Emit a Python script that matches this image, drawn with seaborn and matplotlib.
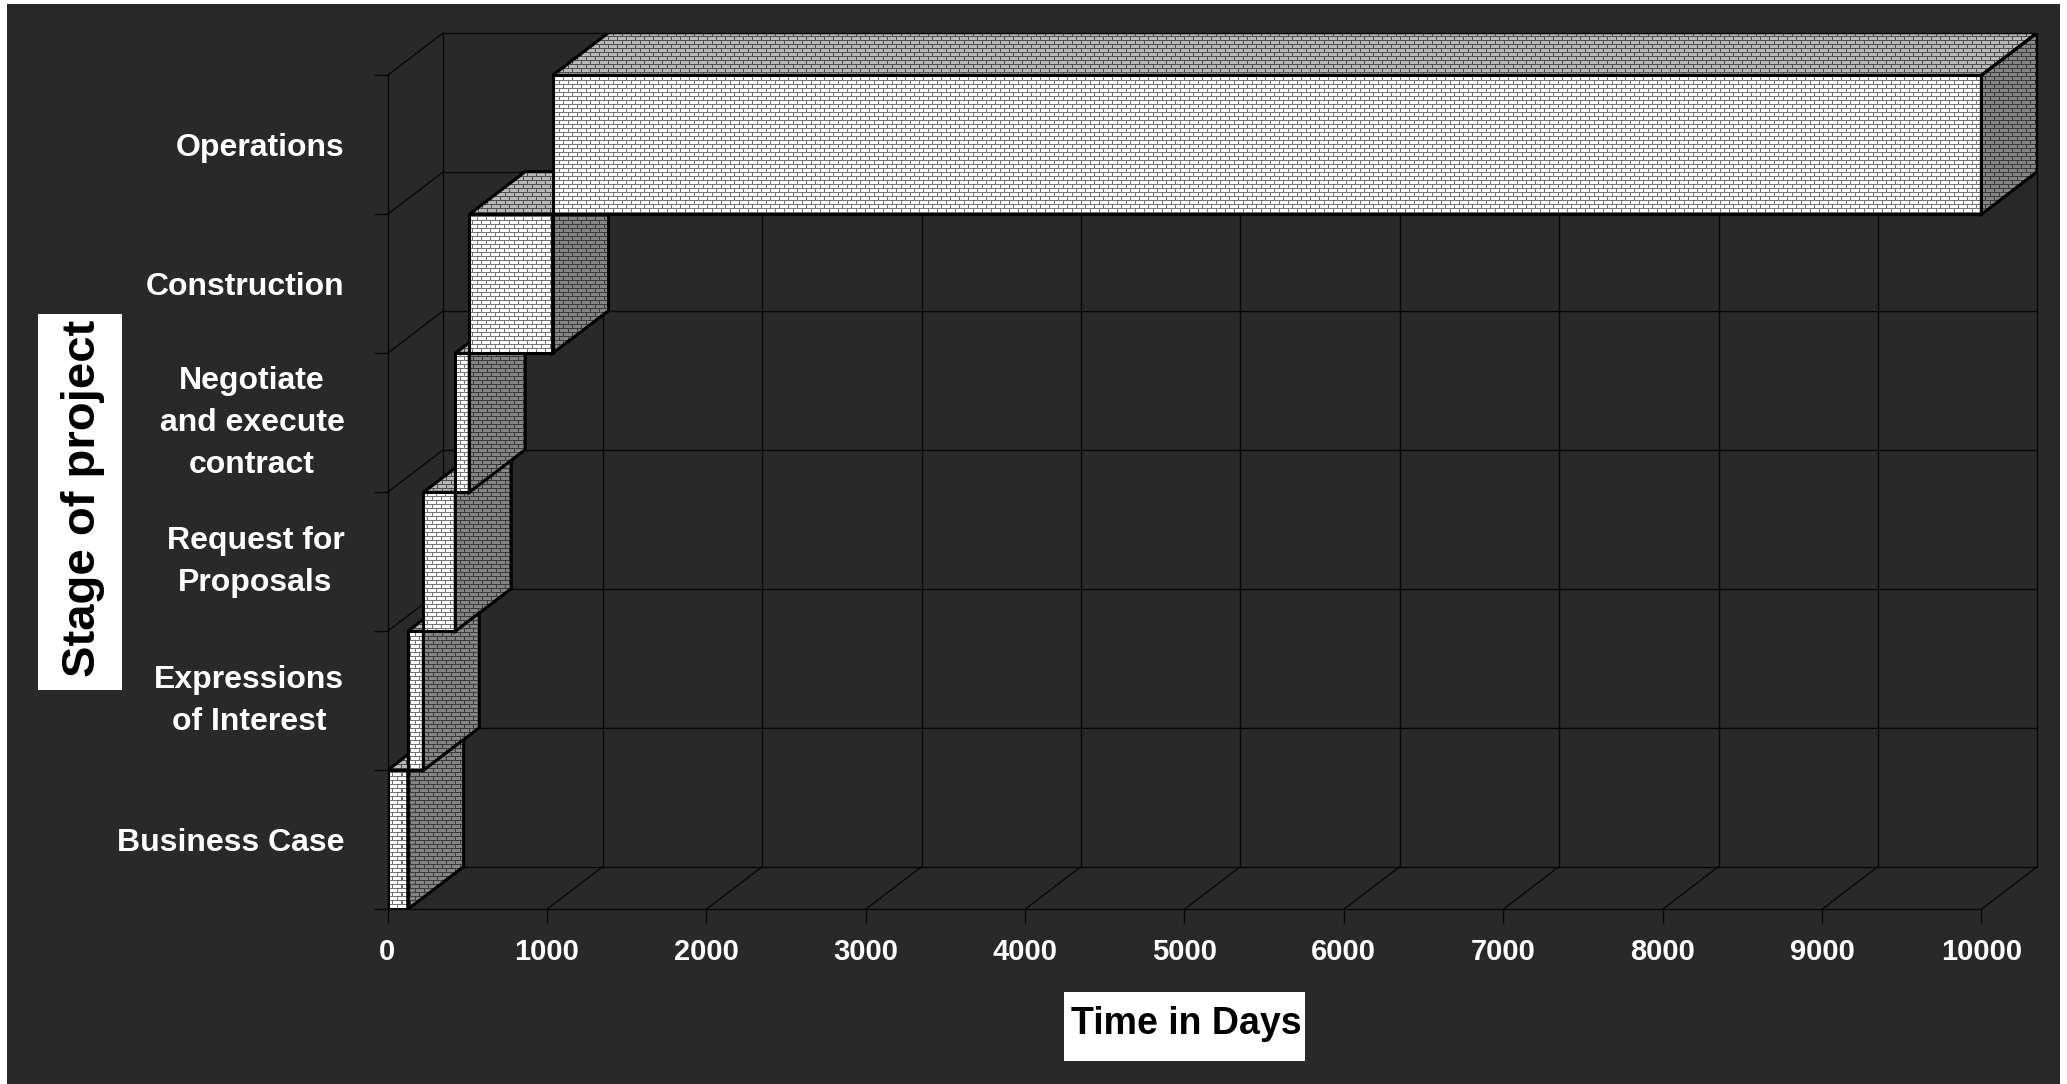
import numpy as np
import matplotlib
matplotlib.use('Agg')
import matplotlib.pyplot as plt
from matplotlib.patches import Polygon, Rectangle
import seaborn as sns

# Values
stages = ['Operations', 'Construction', 'Negotiate\nand execute\ncontract',
          'Request for\nProposals', 'Expressions\nof Interest', 'Business Case']
start_days = [1036, 513, 425, 225, 127, 0]
duration_days = [8964, 523, 88, 200, 98, 127]
x_ticks = [0, 1000, 2000, 3000, 4000, 5000, 6000, 7000, 8000, 9000, 10000]

BG = '#292929'
DEPTH_X = 351    # depth of the fake 3D box, in days
DEPTH_Y = 0.307  # same, in category units
LINE = '#080808'
EDGE_W = 2.2

sns.set_theme(style='white')
plt.rcParams['font.family'] = ['Liberation Sans', 'DejaVu Sans']
plt.rcParams['font.weight'] = 'bold'

W, H = 2067, 1084
fig = plt.figure(figsize=(W / 100, H / 100), dpi=100, facecolor='white')
fig.add_artist(Rectangle((7 / W, 0), 2053 / W, 1 - 4 / H, transform=fig.transFigure,
                         facecolor=BG, edgecolor='none', zorder=-5))

ax = fig.add_axes([387.5 / W, 1 - 909.3 / H, 1649.8 / W, 876.6 / H])
ax.patch.set_visible(False)


def bricks(brick, mortar):
    # brick fill on a 9x8 pixel tile, sized to the axes so it stays crisp
    tile = np.zeros((8, 9), dtype=bool)
    tile[[0, 4], :] = True
    tile[1:4, 0] = True
    tile[5:8, 4] = True
    mask = np.tile(tile, (110, 184))[:877, :1650]
    img = np.empty(mask.shape + (3,))
    img[:] = matplotlib.colors.to_rgb(brick)
    img[mask] = matplotlib.colors.to_rgb(mortar)
    return img


FRONT = bricks('#ffffff', '#747474')
TOP = bricks('#b8b8b8', '#4e4e4e')
SIDE = bricks('#858585', '#3a3a3a')
x_max = x_ticks[-1] + DEPTH_X
y_bottom = len(stages) - 0.5
y_top = -0.5 - DEPTH_Y


def fill_bricks(patch, img, z):
    im = ax.imshow(img, extent=(0, x_max, y_bottom, y_top), origin='upper',
                   aspect='auto', interpolation='nearest', zorder=z)
    im.set_clip_path(patch)


# Front faces come from seaborn, the fake depth is added on top of them
sns.barplot(x=duration_days, y=stages, left=start_days, orient='h', width=1,
            color='white', saturation=1, errorbar=None, ax=ax)

for i, bar in enumerate(list(ax.patches)):
    z = 10 + 3 * (len(stages) - i)
    x0, x1 = bar.get_x(), bar.get_x() + bar.get_width()
    yt, yb = bar.get_y(), bar.get_y() + bar.get_height()
    bar.set(facecolor='none', edgecolor='black', linewidth=EDGE_W, zorder=z + 1)
    fill_bricks(bar, FRONT, z)
    top = Polygon([(x0, yt), (x1, yt), (x1 + DEPTH_X, yt - DEPTH_Y), (x0 + DEPTH_X, yt - DEPTH_Y)],
                  facecolor='none', edgecolor='black', linewidth=EDGE_W, zorder=z + 1)
    side = Polygon([(x1, yt), (x1, yb), (x1 + DEPTH_X, yb - DEPTH_Y), (x1 + DEPTH_X, yt - DEPTH_Y)],
                   facecolor='none', edgecolor='black', linewidth=EDGE_W, zorder=z + 1)
    ax.add_patch(top)
    ax.add_patch(side)
    fill_bricks(top, TOP, z)
    fill_bricks(side, SIDE, z)

# Walls and floor
bounds = np.arange(len(stages) + 1) - 0.5
grid = dict(color=LINE, linewidth=1.0, zorder=2, clip_on=False)
for b in bounds:
    ax.plot([DEPTH_X, x_max], [b - DEPTH_Y, b - DEPTH_Y], **grid)
    ax.plot([0, DEPTH_X], [b, b - DEPTH_Y], **grid)
for t in x_ticks:
    ax.plot([t + DEPTH_X, t + DEPTH_X], [y_bottom - DEPTH_Y, y_top], **grid)
    ax.plot([t, t + DEPTH_X], [y_bottom, y_bottom - DEPTH_Y], **grid)
ax.plot([0, 0], [y_bottom, -0.5], **grid)
ax.plot([0, x_ticks[-1]], [y_bottom, y_bottom], **grid)

ax.set_xlim(0, x_max)
ax.set_ylim(y_bottom, y_top)
sns.despine(ax=ax, left=True, bottom=True)

ax.set_xticks(x_ticks)
ax.set_yticks(range(len(stages)), stages)
ax.set_yticks(bounds, minor=True)
ax.tick_params(axis='x', length=10.3, width=1.0, color=LINE, labelcolor='white',
               labelsize=21, pad=10.5, bottom=True)
ax.tick_params(axis='y', which='major', length=0, labelcolor='white', labelsize=23, pad=31)
ax.tick_params(axis='y', which='minor', length=10.3, width=1.0, color=LINE, left=True)
for label in ax.get_yticklabels():
    if '\n' in label.get_text():
        label.set(ma='center', va='center', linespacing=1.52)
ax.set_xlabel('')
ax.set_ylabel('')

# Axis titles sit on white boxes
fig.add_artist(Rectangle((1064 / W, 1 - 1060.7 / H), 241 / W, 68.7 / H, transform=fig.transFigure,
                         facecolor='white', edgecolor='none', zorder=5))
fig.text(1186 / W, 1 - 1024 / H, 'Time in Days', color='black', fontsize=27, fontweight='bold',
         ha='center', va='center', zorder=6)
fig.add_artist(Rectangle((38 / W, 1 - 690 / H), 84 / W, 376 / H, transform=fig.transFigure,
                         facecolor='white', edgecolor='none', zorder=5))
fig.text(83 / W, 1 - 498 / H, 'Stage of project', color='black', fontsize=34, fontweight='bold',
         rotation=90, ha='center', va='center', zorder=6)

fig.savefig('out.png', dpi=100, facecolor=fig.get_facecolor())
